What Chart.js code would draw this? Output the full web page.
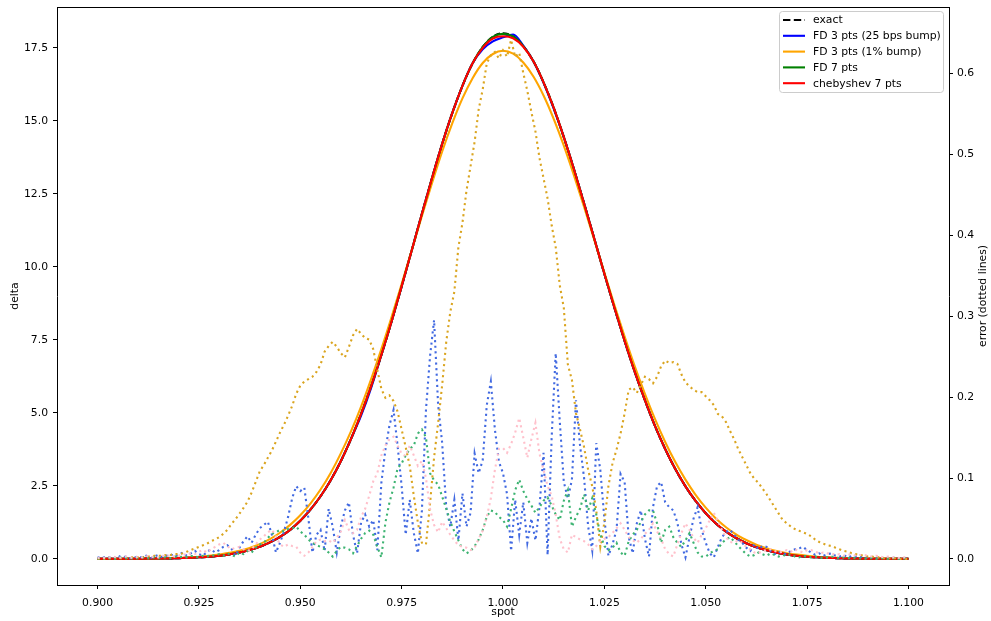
<!DOCTYPE html>
<html>
<head>
<meta charset="utf-8">
<script src="https://cdn.jsdelivr.net/npm/chart.js@4.4.1/dist/chart.umd.min.js"></script>
<style>
  html, body { margin: 0; padding: 0; background: #fff; }
  #wrap { width: 991px; height: 621px; }
</style>
</head>
<body>
<div id="wrap"><canvas id="deltaChart" width="991" height="621"></canvas></div>
<script>
// spot grid of the delta curves
const spot = [
  0.9000,0.9025,0.9050,0.9075,0.9100,0.9125,0.9150,0.9175,0.9200,0.9225,
  0.9250,0.9275,0.9300,0.9325,0.9350,0.9375,0.9400,0.9425,0.9450,0.9475,
  0.9500,0.9525,0.9550,0.9575,0.9600,0.9625,0.9650,0.9675,0.9700,0.9725,
  0.9750,0.9775,0.9800,0.9825,0.9850,0.9875,0.9900,0.9925,0.9950,0.9975,
  1.0000,1.0025,1.0050,1.0075,1.0100,1.0125,1.0150,1.0175,1.0200,1.0225,
  1.0250,1.0275,1.0300,1.0325,1.0350,1.0375,1.0400,1.0425,1.0450,1.0475,
  1.0500,1.0525,1.0550,1.0575,1.0600,1.0625,1.0650,1.0675,1.0700,1.0725,
  1.0750,1.0775,1.0800,1.0825,1.0850,1.0875,1.0900,1.0925,1.0950,1.0975,
  1.1000
];

const exact = [
  0.00,0.00,0.00,0.00,0.00,0.01,0.01,0.01,0.02,0.03,
  0.05,0.07,0.10,0.15,0.21,0.30,0.41,0.56,0.75,0.99,
  1.30,1.68,2.14,2.69,3.34,4.10,4.96,5.92,6.98,8.12,
  9.33,10.57,11.82,13.04,14.21,15.27,16.20,16.97,17.53,17.88,
  18.00,17.89,17.56,17.04,16.32,15.45,14.44,13.34,12.17,10.97,
  9.76,8.59,7.46,6.40,5.43,4.54,3.76,3.07,2.48,1.98,
  1.56,1.21,0.93,0.71,0.53,0.39,0.29,0.21,0.15,0.10,
  0.07,0.05,0.03,0.02,0.01,0.01,0.00,0.00,0.00,0.00,
  0.00
];

const fd25bps = [
  0.00,0.00,0.00,0.00,0.00,0.01,0.01,0.01,0.02,0.03,
  0.05,0.07,0.10,0.15,0.21,0.30,0.41,0.56,0.75,0.99,
  1.30,1.68,2.14,2.69,3.34,4.10,4.90,5.86,6.98,8.12,
  9.33,10.57,11.82,13.04,14.21,15.27,16.20,16.97,17.45,17.72,
  17.86,17.96,17.58,17.04,16.30,15.42,14.44,13.34,12.17,10.97,
  9.76,8.59,7.46,6.40,5.43,4.54,3.76,3.07,2.48,1.98,
  1.56,1.21,0.93,0.71,0.53,0.39,0.29,0.21,0.15,0.10,
  0.07,0.05,0.03,0.02,0.01,0.01,0.00,0.00,0.00,0.00,
  0.00
];

const fd1pct = [
  0.00,0.00,0.00,0.00,0.01,0.01,0.01,0.02,0.03,0.05,
  0.07,0.10,0.14,0.20,0.27,0.37,0.50,0.67,0.89,1.16,
  1.49,1.89,2.37,2.94,3.61,4.36,5.21,6.16,7.18,8.27,
  9.41,10.57,11.74,12.87,13.95,14.92,15.77,16.46,16.98,17.29,
  17.40,17.30,17.00,16.52,15.87,15.07,14.15,13.13,12.05,10.93,
  9.80,8.68,7.61,6.59,5.65,4.78,4.00,3.31,2.71,2.19,
  1.75,1.38,1.08,0.83,0.64,0.48,0.36,0.26,0.19,0.14,
  0.10,0.07,0.05,0.03,0.02,0.01,0.01,0.01,0.00,0.00,
  0.00
];

const fd7 = [
  0.00,0.00,0.00,0.00,0.00,0.01,0.01,0.01,0.02,0.03,
  0.05,0.07,0.10,0.15,0.21,0.30,0.41,0.56,0.75,0.99,
  1.30,1.68,2.14,2.69,3.34,4.10,4.96,5.92,6.98,8.12,
  9.33,10.57,11.82,13.04,14.21,15.27,16.20,16.97,17.53,17.88,
  17.98,17.89,17.56,17.04,16.32,15.45,14.44,13.34,12.17,10.97,
  9.76,8.59,7.46,6.40,5.43,4.54,3.76,3.07,2.48,1.98,
  1.56,1.21,0.93,0.71,0.53,0.39,0.29,0.21,0.15,0.10,
  0.07,0.05,0.03,0.02,0.01,0.01,0.00,0.00,0.00,0.00,
  0.00
];

const cheb7 = [
  0.00,0.00,0.00,0.00,0.00,0.01,0.01,0.01,0.02,0.03,
  0.05,0.07,0.10,0.15,0.21,0.30,0.41,0.56,0.75,0.99,
  1.30,1.68,2.14,2.69,3.34,4.10,4.96,5.92,6.98,8.12,
  9.33,10.57,11.82,13.04,14.21,15.27,16.20,16.97,17.50,17.82,
  17.90,17.83,17.54,17.04,16.32,15.45,14.44,13.34,12.17,10.97,
  9.76,8.59,7.46,6.40,5.43,4.54,3.76,3.07,2.48,1.98,
  1.56,1.21,0.93,0.71,0.53,0.39,0.29,0.21,0.15,0.10,
  0.07,0.05,0.03,0.02,0.01,0.01,0.00,0.00,0.00,0.00,
  0.00
];

// spot grid of the error curves
const errSpot = [
  0.900,0.901,0.902,0.903,0.904,0.905,0.906,0.907,0.908,0.909,
  0.910,0.911,0.912,0.913,0.914,0.915,0.916,0.917,0.918,0.919,
  0.920,0.921,0.922,0.923,0.924,0.925,0.926,0.927,0.928,0.929,
  0.930,0.931,0.932,0.933,0.934,0.935,0.936,0.937,0.938,0.939,
  0.940,0.941,0.942,0.943,0.944,0.945,0.946,0.947,0.948,0.949,
  0.950,0.951,0.952,0.953,0.954,0.955,0.956,0.957,0.958,0.959,
  0.960,0.961,0.962,0.963,0.964,0.965,0.966,0.967,0.968,0.969,
  0.970,0.971,0.972,0.973,0.974,0.975,0.976,0.977,0.978,0.979,
  0.980,0.981,0.982,0.983,0.984,0.985,0.986,0.987,0.988,0.989,
  0.990,0.991,0.992,0.993,0.994,0.995,0.996,0.997,0.998,0.999,
  1.000,1.001,1.002,1.003,1.004,1.005,1.006,1.007,1.008,1.009,
  1.010,1.011,1.012,1.013,1.014,1.015,1.016,1.017,1.018,1.019,
  1.020,1.021,1.022,1.023,1.024,1.025,1.026,1.027,1.028,1.029,
  1.030,1.031,1.032,1.033,1.034,1.035,1.036,1.037,1.038,1.039,
  1.040,1.041,1.042,1.043,1.044,1.045,1.046,1.047,1.048,1.049,
  1.050,1.051,1.052,1.053,1.054,1.055,1.056,1.057,1.058,1.059,
  1.060,1.061,1.062,1.063,1.064,1.065,1.066,1.067,1.068,1.069,
  1.070,1.071,1.072,1.073,1.074,1.075,1.076,1.077,1.078,1.079,
  1.080,1.081,1.082,1.083,1.084,1.085,1.086,1.087,1.088,1.089,
  1.090,1.091,1.092,1.093,1.094,1.095,1.096,1.097,1.098,1.099,
  1.100
];

const errFd25bps = [
  0.002,0.001,0.003,0.002,0.001,0.004,0.002,0.003,0.001,0.002,
  0.003,0.002,0.004,0.001,0.003,0.005,0.002,0.004,0.006,0.003,
  0.005,0.008,0.004,0.007,0.010,0.006,0.004,0.009,0.012,0.008,
  0.011,0.015,0.017,0.013,0.004,0.014,0.022,0.028,0.020,0.030,
  0.038,0.042,0.046,0.030,0.008,0.020,0.034,0.052,0.075,0.090,
  0.084,0.088,0.050,0.008,0.030,0.036,0.010,0.062,0.040,0.008,
  0.040,0.060,0.070,0.030,0.007,0.045,0.055,0.040,0.048,0.011,
  0.094,0.135,0.165,0.184,0.140,0.090,0.030,0.073,0.032,0.007,
  0.060,0.184,0.250,0.295,0.190,0.143,0.064,0.040,0.073,0.023,
  0.081,0.040,0.057,0.130,0.106,0.122,0.190,0.219,0.160,0.120,
  0.106,0.080,0.010,0.073,0.030,0.070,0.020,0.050,0.023,0.064,
  0.131,0.005,0.150,0.254,0.170,0.095,0.075,0.098,0.196,0.140,
  0.100,0.040,0.011,0.143,0.110,0.050,0.004,0.018,0.036,0.105,
  0.095,0.027,0.007,0.044,0.060,0.025,0.003,0.064,0.090,0.095,
  0.070,0.064,0.060,0.045,0.018,0.002,0.027,0.050,0.064,0.036,
  0.020,0.007,0.002,0.015,0.027,0.033,0.036,0.030,0.024,0.020,
  0.014,0.010,0.018,0.012,0.016,0.015,0.010,0.006,0.009,0.007,
  0.006,0.010,0.012,0.013,0.015,0.011,0.008,0.005,0.007,0.004,
  0.006,0.007,0.004,0.003,0.005,0.002,0.004,0.003,0.002,0.003,
  0.001,0.002,0.001,0.002,0.001,0.001,0.002,0.001,0.000,0.001,
  0.000
];

const errFd1pct = [
  0.000,0.000,0.000,0.001,0.001,0.001,0.001,0.001,0.002,0.002,
  0.002,0.002,0.003,0.003,0.004,0.004,0.004,0.005,0.005,0.006,
  0.006,0.007,0.009,0.011,0.013,0.015,0.017,0.019,0.022,0.024,
  0.027,0.031,0.036,0.043,0.049,0.056,0.063,0.071,0.082,0.095,
  0.108,0.116,0.125,0.134,0.145,0.156,0.166,0.177,0.189,0.204,
  0.214,0.219,0.222,0.225,0.231,0.240,0.256,0.263,0.268,0.262,
  0.254,0.249,0.262,0.276,0.284,0.278,0.273,0.271,0.259,0.234,
  0.210,0.199,0.202,0.195,0.182,0.160,0.138,0.115,0.078,0.045,
  0.020,0.018,0.068,0.125,0.168,0.215,0.268,0.305,0.330,0.385,
  0.415,0.455,0.485,0.515,0.555,0.580,0.612,0.622,0.626,0.618,
  0.628,0.620,0.641,0.620,0.625,0.600,0.578,0.552,0.528,0.495,
  0.470,0.445,0.412,0.385,0.338,0.310,0.240,0.221,0.180,0.160,
  0.138,0.110,0.090,0.060,0.015,0.045,0.090,0.118,0.135,0.155,
  0.180,0.209,0.212,0.205,0.215,0.225,0.222,0.217,0.225,0.238,
  0.245,0.242,0.243,0.241,0.228,0.218,0.213,0.209,0.206,0.206,
  0.201,0.196,0.190,0.179,0.176,0.169,0.158,0.148,0.136,0.126,
  0.116,0.106,0.099,0.094,0.087,0.080,0.072,0.064,0.056,0.048,
  0.044,0.040,0.037,0.035,0.033,0.031,0.028,0.024,0.021,0.019,
  0.017,0.016,0.014,0.012,0.010,0.009,0.007,0.006,0.005,0.004,
  0.003,0.003,0.002,0.002,0.001,0.001,0.001,0.001,0.000,0.000,
  0.000
];

const errFd7 = [
  0.001,0.000,0.001,0.001,0.000,0.001,0.002,0.001,0.001,0.000,
  0.001,0.002,0.001,0.001,0.002,0.001,0.002,0.002,0.001,0.003,
  0.002,0.003,0.002,0.004,0.003,0.002,0.004,0.003,0.005,0.004,
  0.006,0.004,0.007,0.005,0.003,0.008,0.006,0.010,0.008,0.014,
  0.018,0.020,0.026,0.031,0.033,0.036,0.034,0.037,0.038,0.040,
  0.034,0.030,0.024,0.020,0.017,0.015,0.012,0.008,0.003,0.010,
  0.015,0.014,0.012,0.007,0.016,0.025,0.032,0.035,0.030,0.015,
  0.002,0.045,0.070,0.088,0.112,0.118,0.128,0.136,0.140,0.155,
  0.160,0.150,0.106,0.097,0.092,0.077,0.062,0.046,0.034,0.023,
  0.012,0.007,0.010,0.016,0.024,0.036,0.052,0.060,0.058,0.052,
  0.048,0.040,0.062,0.085,0.098,0.084,0.074,0.066,0.057,0.064,
  0.072,0.076,0.066,0.055,0.048,0.072,0.085,0.040,0.052,0.062,
  0.080,0.060,0.075,0.055,0.030,0.016,0.011,0.014,0.020,0.008,
  0.004,0.022,0.030,0.036,0.046,0.055,0.060,0.060,0.044,0.020,
  0.036,0.040,0.027,0.020,0.015,0.023,0.032,0.020,0.008,0.003,
  0.003,0.007,0.010,0.012,0.020,0.024,0.027,0.022,0.016,0.011,
  0.006,0.003,0.005,0.008,0.006,0.004,0.007,0.005,0.003,0.005,
  0.004,0.006,0.003,0.002,0.004,0.003,0.002,0.003,0.002,0.001,
  0.002,0.003,0.002,0.001,0.002,0.001,0.002,0.001,0.001,0.000,
  0.001,0.001,0.000,0.001,0.001,0.000,0.001,0.000,0.000,0.001,
  0.000
];

const errCheb7 = [
  0.001,0.002,0.001,0.002,0.003,0.001,0.002,0.003,0.002,0.001,
  0.003,0.002,0.004,0.002,0.003,0.002,0.004,0.003,0.005,0.003,
  0.004,0.006,0.005,0.007,0.006,0.009,0.011,0.008,0.012,0.015,
  0.018,0.020,0.016,0.012,0.014,0.015,0.012,0.010,0.012,0.018,
  0.024,0.028,0.033,0.036,0.028,0.018,0.015,0.018,0.016,0.015,
  0.008,0.004,0.008,0.015,0.022,0.024,0.022,0.023,0.020,0.026,
  0.034,0.048,0.036,0.032,0.036,0.052,0.062,0.078,0.096,0.106,
  0.128,0.140,0.148,0.151,0.140,0.130,0.127,0.140,0.128,0.115,
  0.121,0.100,0.062,0.042,0.033,0.046,0.038,0.030,0.023,0.017,
  0.015,0.014,0.011,0.014,0.025,0.035,0.052,0.075,0.110,0.136,
  0.137,0.131,0.142,0.156,0.174,0.150,0.125,0.148,0.168,0.130,
  0.110,0.090,0.078,0.055,0.025,0.012,0.008,0.030,0.027,0.024,
  0.022,0.018,0.012,0.016,0.022,0.025,0.027,0.032,0.038,0.044,
  0.036,0.027,0.023,0.020,0.025,0.031,0.036,0.044,0.034,0.025,
  0.012,0.006,0.003,0.018,0.032,0.044,0.036,0.026,0.020,0.030,
  0.038,0.048,0.057,0.047,0.036,0.027,0.021,0.020,0.023,0.020,
  0.015,0.012,0.008,0.007,0.010,0.011,0.012,0.010,0.008,0.009,
  0.011,0.009,0.012,0.010,0.008,0.011,0.011,0.009,0.007,0.008,
  0.007,0.007,0.005,0.006,0.004,0.005,0.006,0.004,0.005,0.005,
  0.004,0.003,0.004,0.003,0.002,0.003,0.002,0.002,0.001,0.002,
  0.001
];

const xTicks = [0.900, 0.925, 0.950, 0.975, 1.000, 1.025, 1.050, 1.075, 1.100];
const yTicks = [0, 2.5, 5, 7.5, 10, 12.5, 15, 17.5];
const y2Ticks = [0, 0.1, 0.2, 0.3, 0.4, 0.5, 0.6];

const FONT = { family: 'DejaVu Sans', size: 10.8 };

function pts(xs, ys) {
  return xs.map((x, i) => ({ x: x, y: ys[i] }));
}

function solid(label, ys, color, order, dash) {
  return {
    label: label,
    data: pts(spot, ys),
    borderColor: color,
    borderWidth: 2.1,
    borderDash: dash || [],
    pointRadius: 0,
    cubicInterpolationMode: 'monotone',
    fill: false,
    order: order,
    yAxisID: 'y'
  };
}

function dotted(label, ys, color, order) {
  return {
    label: label,
    isError: true,
    data: pts(errSpot, ys),
    borderColor: color,
    borderWidth: 2.1,
    borderDash: [2.1, 3.5],
    borderCapStyle: 'butt',
    pointRadius: 0,
    tension: 0,
    fill: false,
    order: order,
    yAxisID: 'y2'
  };
}

// frame, axis titles and a matplotlib style legend box
const decorations = {
  id: 'decorations',
  afterDraw(chart) {
    const ctx = chart.ctx;
    const a = chart.chartArea;
    ctx.save();
    ctx.strokeStyle = '#000';
    ctx.lineWidth = 1;
    ctx.beginPath();
    ctx.moveTo(a.left, a.top + 0.5);
    ctx.lineTo(a.right, a.top + 0.5);
    ctx.stroke();

    ctx.fillStyle = '#000';
    ctx.font = '10.8px "DejaVu Sans"';
    ctx.textAlign = 'center';
    ctx.textBaseline = 'middle';
    ctx.fillText('spot', (a.left + a.right) / 2, 612);
    ctx.save();
    ctx.translate(15, (a.top + a.bottom) / 2);
    ctx.rotate(-Math.PI / 2);
    ctx.fillText('delta', 0, 0);
    ctx.restore();
    ctx.save();
    ctx.translate(983, (a.top + a.bottom) / 2);
    ctx.rotate(-Math.PI / 2);
    ctx.fillText('error (dotted lines)', 0, 0);
    ctx.restore();

    // legend
    const items = chart.data.datasets.filter(d => !d.isError);
    ctx.beginPath();
    ctx.roundRect(779.5, 11.5, 164, 81, 3);
    ctx.fillStyle = 'rgba(255,255,255,0.8)';
    ctx.fill();
    ctx.strokeStyle = '#cccccc';
    ctx.stroke();
    ctx.textAlign = 'left';
    items.forEach((d, i) => {
      const y = 20 + i * 15.8;
      ctx.beginPath();
      ctx.setLineDash(d.borderDash.length ? [7.4, 3.4] : []);
      ctx.strokeStyle = d.borderColor;
      ctx.lineWidth = 2.1;
      ctx.moveTo(783, y);
      ctx.lineTo(805, y);
      ctx.stroke();
      ctx.setLineDash([]);
      ctx.fillStyle = '#000';
      ctx.fillText(d.label, 813, y + 0.5);
    });
    ctx.restore();
  }
};

function axisStyle(ticks, digits, pad) {
  return {
    afterBuildTicks: s => { s.ticks = ticks.map(v => ({ value: v })); },
    ticks: {
      autoSkip: false,
      maxRotation: 0,
      color: '#000',
      font: FONT,
      padding: pad,
      callback: v => Number(v).toFixed(digits)
    },
    grid: { drawOnChartArea: false, color: '#000', lineWidth: 1, tickLength: 4 },
    border: { display: true, color: '#000', width: 1 }
  };
}

const xAxis = Object.assign(axisStyle(xTicks, 3, 8), {
  type: 'linear', position: 'bottom', min: 0.89, max: 1.11,
  afterFit: s => { s.height = 36; s.paddingLeft = 0; s.paddingRight = 0; }
});
const yAxis = Object.assign(axisStyle(yTicks, 1, 5), {
  type: 'linear', position: 'left', min: -0.9, max: 18.9,
  afterFit: s => { s.width = 57; s.paddingTop = 0; s.paddingBottom = 0; }
});
const y2Axis = Object.assign(axisStyle(y2Ticks, 1, 4), {
  type: 'linear', position: 'right', min: -0.0321, max: 0.6815,
  afterFit: s => { s.width = 42; s.paddingTop = 0; s.paddingBottom = 0; }
});

new Chart(document.getElementById('deltaChart').getContext('2d'), {
  type: 'line',
  data: {
    datasets: [
      solid('exact', exact, '#000000', 19, [6, 2.6]),
      solid('FD 3 pts (25 bps bump)', fd25bps, '#0000ff', 18),
      solid('FD 3 pts (1% bump)', fd1pct, '#ffa500', 17),
      solid('FD 7 pts', fd7, '#008000', 16),
      solid('chebyshev 7 pts', cheb7, '#ff0000', 15),
      dotted('FD 3 pts (25 bps bump) error', errFd25bps, '#4169e1', 4),
      dotted('FD 3 pts (1% bump) error', errFd1pct, '#daa520', 3),
      dotted('FD 7 pts error', errFd7, '#3cb371', 2),
      dotted('chebyshev 7 pts error', errCheb7, '#ffc0cb', 1)
    ]
  },
  options: {
    responsive: false,
    animation: false,
    devicePixelRatio: 1,
    layout: { padding: { top: 7, left: 0, right: 0, bottom: 0 } },
    scales: { x: xAxis, y: yAxis, y2: y2Axis },
    plugins: {
      legend: { display: false },
      tooltip: { enabled: false }
    }
  },
  plugins: [decorations]
});
</script>
</body>
</html>
